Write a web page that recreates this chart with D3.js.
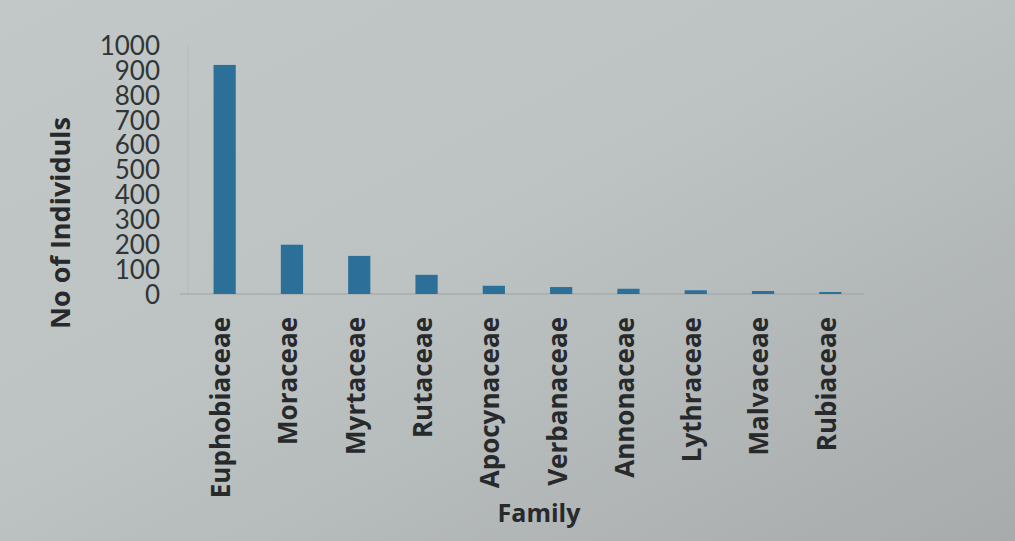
<!DOCTYPE html>
<html>
<head>
<meta charset="utf-8">
<script src="https://cdn.jsdelivr.net/npm/d3@7/dist/d3.min.js"></script>
<style>
  html, body { margin: 0; padding: 0; }
  body { width: 1015px; height: 541px; overflow: hidden; }
</style>
</head>
<body>
<svg id="chart" width="1015" height="541"></svg>
<script>
const categories = ["Euphobiaceae", "Moraceae", "Myrtaceae", "Rutaceae", "Apocynaceae", "Verbanaceae", "Annonaceae", "Lythraceae", "Malvaceae", "Rubiaceae"];
const values = [920, 198, 153, 77, 33, 28, 21, 15, 12, 8];
const yTicks = [0, 100, 200, 300, 400, 500, 600, 700, 800, 900, 1000];
const yTitle = "No of Individuls";
const xTitle = "Family";

const svg = d3.select("#chart");

// background (photographed page)
const defs = svg.append("defs");
const grad = defs.append("linearGradient").attr("id", "bg")
  .attr("x1", "0%").attr("y1", "0%").attr("x2", "100%").attr("y2", "100%");
grad.append("stop").attr("offset", "0%").attr("stop-color", "#c1c8c7");
grad.append("stop").attr("offset", "45%").attr("stop-color", "#bdc3c3");
grad.append("stop").attr("offset", "100%").attr("stop-color", "#a8abac");
svg.append("rect").attr("width", 1015).attr("height", 541).attr("fill", "url(#bg)");

const x = d3.scaleBand().domain(categories).range([191, 864]).paddingInner(0.67).paddingOuter(0.335);
const y = d3.scaleLinear().domain([0, 1000]).range([294, 45]);

// axis lines
svg.append("line").attr("x1", 188).attr("x2", 188).attr("y1", y(1000)).attr("y2", y(0))
  .attr("stroke", "#b3b8b8").attr("stroke-width", 1);
svg.append("line").attr("x1", 180).attr("x2", 864).attr("y1", y(0)).attr("y2", y(0))
  .attr("stroke", "#9ea3a4").attr("stroke-width", 1.2);

// y axis labels
const yAxis = d3.axisLeft(y).tickValues(yTicks).tickSize(0).tickPadding(0).tickFormat(d3.format("d"));
const gy = svg.append("g").attr("transform", "translate(160,0)").call(yAxis);
gy.select(".domain").remove();
gy.selectAll("text")
  .attr("font-family", "Lato, 'Open Sans', sans-serif")
  .attr("font-size", 26)
  .attr("fill", "#313537")
  .attr("dy", "0.36em");

// bars
svg.append("g").selectAll("rect").data(categories).join("rect")
  .attr("x", d => x(d))
  .attr("width", x.bandwidth())
  .attr("y", (d, i) => y(values[i]))
  .attr("height", (d, i) => y(0) - y(values[i]))
  .attr("fill", "#2c7099");

// x axis labels
const xAxis = d3.axisBottom(x).tickSize(0).tickPadding(0);
const gx = svg.append("g").attr("transform", "translate(-4,317)").call(xAxis);
gx.select(".domain").remove();
gx.selectAll("text")
  .attr("font-family", "'Open Sans', Lato, sans-serif")
  .attr("font-weight", "bold")
  .attr("font-size", 26)
  .attr("fill", "#27292b")
  .attr("text-anchor", "end")
  .attr("transform", "rotate(-90)")
  .attr("x", 0)
  .attr("y", 0)
  .attr("dy", "0.36em");

// titles
svg.append("text")
  .attr("transform", "translate(60,223) rotate(-90)")
  .attr("text-anchor", "middle")
  .attr("dy", "0.36em")
  .attr("font-family", "'Open Sans', Lato, sans-serif")
  .attr("font-weight", "bold")
  .attr("font-size", 27)
  .attr("fill", "#27292b")
  .text(yTitle);

svg.append("text")
  .attr("x", 539).attr("y", 513)
  .attr("text-anchor", "middle")
  .attr("dy", "0.36em")
  .attr("font-family", "'Open Sans', Lato, sans-serif")
  .attr("font-weight", "bold")
  .attr("font-size", 25)
  .attr("fill", "#27292b")
  .text(xTitle);
</script>
</body>
</html>
